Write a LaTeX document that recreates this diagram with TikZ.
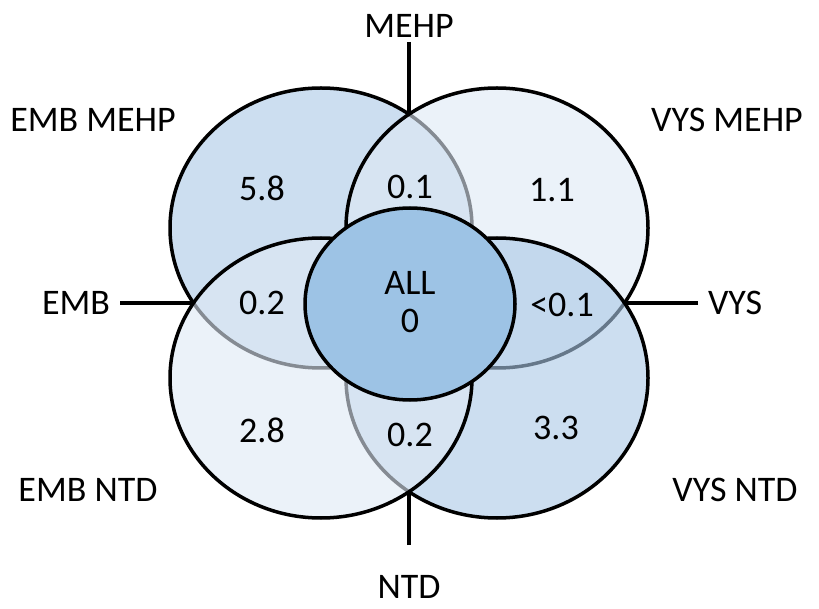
\documentclass[tikz,border=0pt]{standalone}
\usepackage{fontspec}
\setmainfont{Carlito}
\usetikzlibrary{positioning}

\definecolor{setmid}{RGB}{170,200,230}
\definecolor{setlight}{RGB}{222,233,245}
\definecolor{setall}{RGB}{157,195,229}

\begin{document}
\begin{tikzpicture}[
    x=1pt, y=-1pt,
    font=\fontsize{36}{38}\selectfont,
    set/.style={draw=black, line width=3.5pt, fill opacity=0.6},
    line/.style={draw, line width=3.5pt},
    tag/.style={inner xsep=10pt, inner ysep=4pt, outer sep=0pt},
    num/.style={inner sep=0pt}
]
    \useasboundingbox (0,0) rectangle (819,609);

    % Sets
    \draw [set, fill=setmid]   (321,228) ellipse [x radius=151, y radius=140];
    \draw [set, fill=setlight] (497,228) ellipse [x radius=151, y radius=140];
    \draw [set, fill=setmid]   (497,378) ellipse [x radius=151, y radius=140];
    \draw [set, fill=setlight] (321,378) ellipse [x radius=151, y radius=140];
    \draw [line width=3.5pt, fill=setall] (410,304) ellipse [x radius=105, y radius=96];

    % Crossing points
    \coordinate (ptop) at (409,114);
    \coordinate (pleft) at (194,303);
    \coordinate (pright) at (624,303);
    \coordinate (pbottom) at (409,492);

    % Labels
    \node [tag, above=72pt of ptop] (mehp) {MEHP};
    \node [tag, left=74pt of pleft] (emb) {EMB};
    \node [tag, right=74pt of pright] (vys) {VYS};
    \node [tag, inner ysep=30pt, below=53pt of pbottom] (ntd) {NTD};
    \node [tag] (embmehp) at (93,120) {EMB MEHP};
    \node [tag] (vysmehp) at (727,120) {VYS MEHP};
    \node [tag] (embntd) at (88,490) {EMB NTD};
    \node [tag] (vysntd) at (735,490) {VYS NTD};

    % Values
    \node [num] (v1) at (262,188) {5.8};
    \node [num] (v2) at (410,187) {0.1};
    \node [num] (v3) at (552,190) {1.1};
    \node [num] (v4) at (262,303) {0.2};
    \node [num] (v5) at (562,305) {<0.1};
    \node [num] (v6) at (262,430) {2.8};
    \node [num] (v7) at (410,435) {0.2};
    \node [num] (v8) at (556,428) {3.3};
    \node [num, align=center] (all) at (410,302) {ALL\\0};

    % Connections
    \draw [line] (mehp) -- (ptop);
    \draw [line] (emb) -- (pleft);
    \draw [line] (vys) -- (pright);
    \draw [line] (ntd) -- (pbottom);

\end{tikzpicture}
\end{document}
